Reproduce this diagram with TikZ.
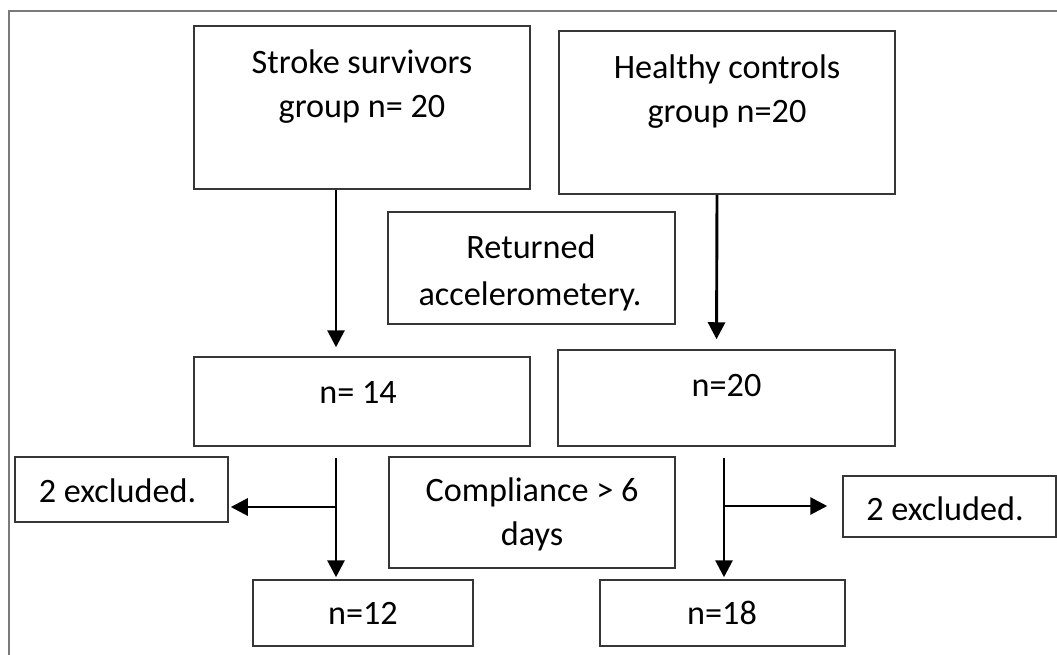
\documentclass[tikz,border=0pt]{standalone}
\usepackage{fontspec}
\setmainfont{Carlito}
\usetikzlibrary{arrows.meta}

\definecolor{boxline}{HTML}{363636}
\definecolor{frameline}{HTML}{7A7A7A}

\tikzset{
  x=1pt, y=-1pt,
  box/.style={draw=boxline, line width=1.5pt, inner sep=0pt, anchor=center},
  txt/.style={font=\fontsize{34.2}{44}\selectfont, anchor=base, inner sep=0pt, text=black},
  arr/.style={draw=black, line width=2.9pt, -{Triangle[length=17pt,width=17pt]}},
}

\begin{document}
\begin{tikzpicture}
\useasboundingbox (0,0) rectangle (1057,654);
\fill[white] (0,0) rectangle (1057,654);

% outer frame (left and top edges)
\draw[frameline, line width=1.6pt] (9,660) -- (9,11) -- (1062,11);

% boxes
\node[box, minimum width=336pt, minimum height=163pt] (ss)   at (362,107.5) {};
\node[box, minimum width=336pt, minimum height=163pt] (hc)   at (727,112.5) {};
\node[box, minimum width=287pt, minimum height=112pt] (ret)  at (531.5,268) {};
\node[box, minimum width=336pt, minimum height=89pt]  (n14)  at (362,401.5) {};
\node[box, minimum width=337pt, minimum height=96pt]  (n20)  at (726.5,398) {};
\node[box, minimum width=213pt, minimum height=65pt]  (exL)  at (121.5,489.5) {};
\node[box, minimum width=286pt, minimum height=111pt] (comp) at (532,512.5) {};
\node[box, minimum width=213pt, minimum height=61pt]  (exR)  at (949.5,506.5) {};
\node[box, minimum width=220pt, minimum height=66pt]  (n12)  at (363,613) {};
\node[box, minimum width=245pt, minimum height=66pt]  (n18)  at (722.5,613) {};

% texts
\node[txt] (ssA)   at (362,73)   {Stroke survivors};
\node[txt] (ssB)   at (362,117)  {group n= 20};
\node[txt] (hcA)   at (727,78)   {Healthy controls};
\node[txt] (hcB)   at (727,122)  {group n=20};
\node[txt] (retA)  at (531,258)  {Returned};
\node[txt] (retB)  at (530,305)  {accelerometery.};
\node[txt] (n14t)  at (358,403)  {n= 14};
\node[txt] (n20t)  at (726.5,396) {n=20};
\node[txt] (exLt)  at (117.5,502) {2 excluded.};
\node[txt] (compA) at (532,501)  {Compliance > 6};
\node[txt] (compB) at (532,545)  {days};
\node[txt] (exRt)  at (945,520)  {2 excluded.};
\node[txt] (n12t)  at (363,624)  {n=12};
\node[txt] (n18t)  at (722,624)  {n=18};

% connectors
\draw[arr, shorten >=9pt] ([xshift=-26pt]ss.south) -- ([xshift=-26pt]n14.north);
\draw[arr, shorten >=10pt] ([xshift=-10pt]hc.south) -- ([xshift=-10pt]n20.north);

\coordinate (brL) at (336,507);
\coordinate (brR) at (724,506);
\draw[arr, shorten <=11pt, shorten >=2pt] ([xshift=-26pt]n14.south) -- ([xshift=-27pt]n12.north);
\draw[arr, shorten >=2pt] (brL) -- (brL -| exL.east);
\draw[arr, shorten <=11pt, shorten >=2pt] ([xshift=-2.5pt]n20.south) -- ([xshift=1.5pt]n18.north);
\draw[arr, shorten >=15pt] (brR) -- (brR -| exR.west);
\end{tikzpicture}
\end{document}
